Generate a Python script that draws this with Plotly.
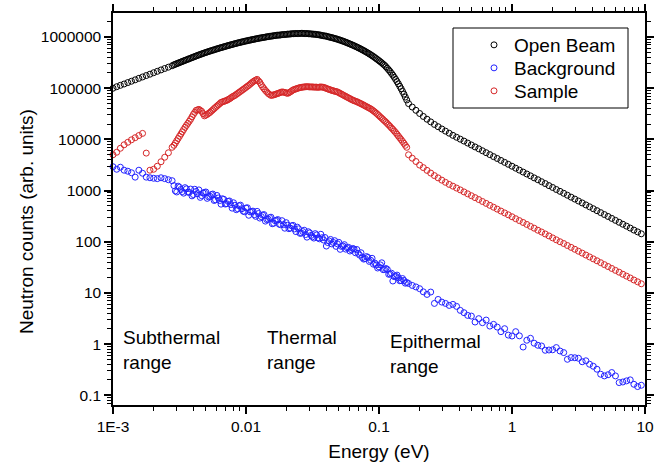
import plotly.graph_objects as go

# ---------------- data ----------------
# energy bins (eV)
energy_ev = [
    0.001000, 0.001066, 0.001136, 0.001212, 0.001292, 0.001377, 0.001468, 0.001565, 0.001668,
    0.001778, 0.001896, 0.002021, 0.002154, 0.002297, 0.002448, 0.002610, 0.002783,
    0.002873, 0.003014, 0.003162, 0.003318, 0.003481, 0.003652, 0.003831, 0.004020, 0.004217,
    0.004424, 0.004642, 0.004870, 0.005109, 0.005360, 0.005623, 0.005900, 0.006190, 0.006494,
    0.006813, 0.007148, 0.007499, 0.007868, 0.008254, 0.008660, 0.009085, 0.009532,
    0.01000, 0.01049, 0.01101, 0.01155, 0.01212, 0.01271, 0.01334, 0.01399, 0.01468, 0.01540,
    0.01616, 0.01695, 0.01778, 0.01866, 0.01957, 0.02054, 0.02154, 0.02260, 0.02371, 0.02488,
    0.02610, 0.02738, 0.02873, 0.03014, 0.03162, 0.03318, 0.03481, 0.03652, 0.03831, 0.04020,
    0.04217, 0.04424, 0.04642, 0.04870, 0.05109, 0.05360, 0.05623, 0.05900, 0.06190, 0.06494,
    0.06813, 0.07148, 0.07499, 0.07868, 0.08254, 0.08660, 0.09085, 0.09532,
    0.1000, 0.1049, 0.1101, 0.1155, 0.1212, 0.1271, 0.1334, 0.1399, 0.1468, 0.1540, 0.1616,
    0.1668, 0.1778, 0.1896, 0.2021, 0.2154, 0.2297, 0.2448, 0.2610, 0.2783, 0.2967, 0.3162,
    0.3372, 0.3594, 0.3831, 0.4084, 0.4354, 0.4642, 0.4949, 0.5275, 0.5624, 0.5995, 0.6392,
    0.6813, 0.7264, 0.7743, 0.8254, 0.8799, 0.9381,
    1.000, 1.066, 1.136, 1.212, 1.292, 1.377, 1.468, 1.565, 1.668, 1.778, 1.896, 2.021, 2.154,
    2.297, 2.448, 2.610, 2.783, 2.967, 3.162, 3.372, 3.594, 3.831, 4.084, 4.354, 4.642, 4.949,
    5.275, 5.624, 5.995, 6.392, 6.813, 7.264, 7.743, 8.254, 8.799, 9.381,
]

# extra (in-between) bins of the finely binned thermal region
energy_mid_ev = [
    0.002943, 0.003087, 0.003239, 0.003398, 0.003565, 0.003740, 0.003924, 0.004117, 0.004319,
    0.004532, 0.004754, 0.004988, 0.005233, 0.005490, 0.005760, 0.006043, 0.006340, 0.006651,
    0.006978, 0.007321, 0.007681, 0.008058, 0.008454, 0.008870, 0.009306, 0.009763,
    0.01024, 0.01075, 0.01127, 0.01183, 0.01241, 0.01302, 0.01366, 0.01433, 0.01503, 0.01577,
    0.01655, 0.01736, 0.01821, 0.01911, 0.02005, 0.02103, 0.02207, 0.02315, 0.02429, 0.02548,
    0.02674, 0.02805, 0.02943, 0.03087, 0.03239, 0.03398, 0.03565, 0.03740, 0.03924, 0.04117,
    0.04319, 0.04532, 0.04754, 0.04988, 0.05233, 0.05490, 0.05760, 0.06043, 0.06340, 0.06651,
    0.06978, 0.07321, 0.07681, 0.08058, 0.08454, 0.08870, 0.09306, 0.09763,
    0.1024, 0.1075, 0.1127, 0.1183, 0.1241, 0.1302, 0.1366, 0.1433, 0.1503, 0.1577,
]

open_beam = [
    100000, 107000, 114000, 121000, 129000, 137000, 146000, 156000, 166000, 177000, 188000,
    201000, 214000, 228000, 243000, 258000, 275000,
    287000, 302000, 317000, 333000, 351000, 368000, 386000, 406000, 427000, 447000, 468000,
    490000, 511000, 532000, 553000, 575000, 598000, 621000, 644000, 668000, 692000, 716000,
    741000, 766000, 789000, 813000, 838000, 861000, 885000, 908000, 931000, 955000, 977000,
    998000, 1020000, 1040000, 1060000, 1080000, 1090000, 1110000, 1120000, 1140000, 1150000,
    1160000, 1170000, 1170000, 1180000, 1170000, 1170000, 1160000, 1140000, 1130000, 1110000,
    1090000, 1060000, 1040000, 1000000, 973000, 940000, 906000, 869000, 832000, 793000, 753000,
    714000, 676000, 638000, 600000, 562000, 525000, 488000, 451000, 415000, 379000, 345000,
    313000, 281000, 246000, 212000, 180000, 149000, 122000, 97700, 76700, 58900,
    50100, 42900, 37000, 32100, 28100, 24800, 22000, 19600, 17700, 16000, 14500, 13200, 12000,
    11000, 10100, 9270, 8490, 7780, 7130, 6550, 6000, 5500, 5040, 4610, 4240, 3880, 3560, 3260,
    2990, 2740, 2510, 2300, 2110, 1940, 1770, 1630, 1490, 1370, 1250, 1150, 1050, 966, 885,
    811, 743, 682, 625, 573, 525, 482, 442, 405, 371, 340, 312, 286, 262, 240, 220, 202, 185,
    169, 156, 143,
]
open_beam_mid = [
    294000, 309000, 325000, 342000, 359000, 377000, 396000, 416000, 437000, 457000,
    479000, 500000, 521000, 543000, 564000, 587000, 610000, 632000, 656000, 680000,
    704000, 729000, 753000, 777000, 801000, 825000, 849000, 873000, 896000, 919000,
    943000, 966000, 987000, 1010000, 1030000, 1050000, 1070000, 1090000, 1100000, 1120000,
    1130000, 1140000, 1160000, 1170000, 1170000, 1180000, 1180000, 1170000, 1160000, 1150000,
    1140000, 1120000, 1100000, 1070000, 1050000, 1020000, 989000, 956000, 923000, 887000,
    850000, 812000, 773000, 734000, 695000, 657000, 619000, 581000, 543000, 506000,
    469000, 433000, 397000, 362000, 329000, 296000, 263000, 228000, 195000, 164000,
    135000, 109000, 86600, 67200,
]

background = [
    2920, 2610, 2860, 2500, 2390, 2230, 1830, 2500, 2180, 1830, 1780, 1740, 1710, 1780, 1710,
    1630, 1560,
    1250, 939, 1160, 952, 1140, 935, 1070, 836, 960, 1030, 795, 918, 705, 774, 855, 659, 718,
    543, 674, 555, 627, 454, 517, 442, 520, 395, 455, 329, 390, 338, 392, 290, 332, 253, 276,
    302, 230, 264, 220, 258, 184, 211, 185, 209, 158, 179, 148, 168, 123, 149, 125, 144, 119,
    140, 108, 82.4, 104, 90.6, 105, 91.0, 71.1, 83.0, 71.7, 77.8, 69.9, 72.0, 70.5, 54.8, 49.2,
    46.8, 49.4, 43.4, 36.4, 35.1, 32.3, 38.8, 28.7, 28.8, 23.3, 17.1, 21.2, 19.8, 17.4, 17.5,
    16.0,
    15.3, 14.0, 13.1, 12.1, 10.5, 9.35, 10.4, 6.24, 7.46, 6.62, 6.24, 5.70, 5.97, 5.46, 4.56,
    4.11, 3.64, 3.53, 2.70, 3.14, 2.62, 2.95, 2.25, 2.43, 2.15, 1.75, 2.00, 1.50,
    1.44, 1.75, 1.45, 0.877, 1.19, 1.30, 1.04, 0.949, 0.919, 0.757, 0.767, 0.775, 0.855, 0.733,
    0.683, 0.505, 0.546, 0.541, 0.529, 0.452, 0.472, 0.404, 0.369, 0.323, 0.258, 0.239, 0.252,
    0.278, 0.239, 0.177, 0.182, 0.191, 0.200, 0.164, 0.148, 0.157,
]
background_mid = [
    987, 1220, 1050, 890, 1080, 922, 788, 1060, 866, 737,
    894, 939, 754, 832, 641, 803, 638, 692, 546, 616,
    533, 578, 423, 505, 442, 386, 462, 383, 397, 314,
    356, 310, 339, 270, 295, 225, 258, 271, 215, 216,
    236, 180, 205, 178, 193, 146, 158, 138, 157, 133,
    118, 136, 114, 120, 121, 96.5, 111, 96.9, 81.3, 97.3,
    81.0, 87.8, 76.4, 65.9, 74.0, 60.8, 59.4, 61.0, 45.8, 51.4,
    41.3, 47.5, 38.3, 30.7, 35.3, 28.5, 30.0, 23.1, 24.3, 20.8,
    22.3, 17.3, 19.1, 15.5,
]

sample = [
    5010, 5610, 6710, 7850, 8780, 9820, 10800, 11900, 13100, 5400, 2500, 2610, 2990, 3660, 4480,
    5480, 7010,
    7670, 9400, 11500, 14100, 17200, 20600, 24700, 30800, 36900, 38600, 35300, 28800, 30800,
    33700, 37800, 42300, 47200, 52800, 55300, 57800, 61800, 67700, 72400, 79200, 86700, 94800,
    104000, 114000, 127000, 139000, 149000, 130000, 106000, 90600, 79200, 72400, 74000, 77400,
    80900, 84700, 82800, 79200, 84700, 92700, 96900, 101000, 104000, 106000, 107000, 106000,
    106000, 105000, 104000, 106000, 104000, 99100, 94800, 90600, 87400, 84700, 79200, 74000,
    69200, 64700, 60500, 57000, 54600, 51300, 48300, 45200, 42300, 39500, 36100, 32600, 29100,
    25900, 23000, 20400, 17900, 15700, 13600, 11600, 9910, 8390, 7010,
    5010, 4290, 3700, 3150, 2810, 2480, 2200, 1960, 1770, 1600, 1450, 1320, 1220, 1120, 1030,
    942, 865, 793, 728, 668, 612, 562, 515, 473, 434, 398, 366, 336,
    308, 282, 259, 238, 218, 200, 184, 168, 155, 142, 130, 119, 109, 100, 92.3, 84.5, 77.6,
    71.3, 65.3, 60.0, 55.0, 50.5, 46.3, 42.5, 39.0, 35.7, 32.8, 30.1, 27.6, 25.4, 23.2, 21.3,
    19.6, 17.9, 16.5, 15.1,
]
sample_mid = [
    8490, 10400, 12700, 15600, 18800, 22500, 27600, 33700, 37800, 36900,
    31900, 29800, 32300, 35700, 40000, 44700, 49900, 54100, 56600, 59800,
    64600, 70000, 75800, 82900, 90700, 99200, 109000, 120000, 133000, 144000,
    139000, 117000, 97900, 84700, 75800, 73200, 75700, 79100, 82800, 83800,
    81000, 81900, 88600, 94700, 99100, 103000, 105000, 107000, 107000, 106000,
    105000, 105000, 105000, 105000, 102000, 96900, 92700, 89000, 86100, 81900,
    76600, 71500, 66900, 62600, 58700, 55800, 52900, 49800, 46700, 43700,
    40800, 37800, 34300, 30800, 27400, 24400, 21700, 19100, 16700, 14600,
    12600, 10700, 9120, 7670,
]

series_names = ["Open Beam", "Background", "Sample"]
x_tick_vals = [0.001, 0.01, 0.1, 1, 10]
x_tick_text = ["1E-3", "0.01", "0.1", "1", "10"]
y_tick_vals = [0.1, 1, 10, 100, 1000, 10000, 100000, 1000000]
y_tick_text = ["0.1", "1", "10", "100", "1000", "10000", "100000", "1000000"]
x_title = "Energy (eV)"
y_title = "Neutron counts (arb. units)"
range_labels = ["Subthermal<br>range", "Thermal<br>range", "Epithermal<br>range"]

# ---------------- figure ----------------
FONT = "Liberation Sans, Arial, Helvetica, sans-serif"
colors = ["#000000", "#2323ff", "#d62728"]
main_values = [open_beam, background, sample]
mid_values = [open_beam_mid, background_mid, sample_mid]
legend_ids = ["legend", "legend2", "legend3"]

W, H = 665, 462
L, R, T, B = 113, 20, 13, 57
pw, ph = W - L - R, H - T - B


def px_x(p):
    return (p - L) / pw


def px_y(p):
    return 1 - (p - T) / ph


fig = go.Figure()
for name, vals, mids, col, lg in zip(series_names, main_values, mid_values, colors, legend_ids):
    fig.add_trace(go.Scatter(
        x=energy_ev + energy_mid_ev, y=vals + mids, mode="markers", name=name, legend=lg,
        marker=dict(symbol="circle-open", size=6, color=col, line=dict(width=1, color=col)),
        cliponaxis=False,
    ))

minor_vals = [m * 10.0 ** e for e in range(-4, 8) for m in range(2, 10)]

axis_common = dict(
    type="log", showgrid=False, zeroline=False, automargin=False,
    showline=True, linecolor="black", linewidth=1.5, mirror="allticks",
    ticks="outside", ticklen=7, tickwidth=1.5, tickcolor="black",
    tickfont=dict(family=FONT, size=15.5, color="black"),
    tickmode="array",
    minor=dict(ticks="outside", ticklen=4, tickwidth=1, tickcolor="black",
               tickmode="array", tickvals=minor_vals, showgrid=False),
)

legend_common = dict(xanchor="left", yanchor="middle", bgcolor="rgba(0,0,0,0)",
                     borderwidth=0, font=dict(family=FONT, size=19, color="black"))

fig.update_layout(
    width=W, height=H,
    margin=dict(l=L, r=R, t=T, b=B, autoexpand=False),
    paper_bgcolor="white", plot_bgcolor="white",
    font=dict(family=FONT, color="black"),
    xaxis=dict(axis_common, range=[-3, 1], tickvals=x_tick_vals, ticktext=x_tick_text,
               title=dict(text=x_title, font=dict(family=FONT, size=19), standoff=10)),
    yaxis=dict(axis_common, range=[-1.19, 6.47], tickvals=y_tick_vals, ticktext=y_tick_text),
    legend=dict(legend_common, x=px_x(474), y=px_y(45)),
    legend2=dict(legend_common, x=px_x(474), y=px_y(68)),
    legend3=dict(legend_common, x=px_x(474), y=px_y(91)),
    showlegend=True,
)

# y-axis title (placed as in the reference)
fig.add_annotation(text=y_title, textangle=-90, xref="paper", yref="paper",
                   x=px_x(26), y=px_y(222), xanchor="center", yanchor="middle",
                   showarrow=False, font=dict(family=FONT, size=19, color="black"))

# legend frame
fig.add_shape(type="rect", xref="paper", yref="paper",
              x0=px_x(453), x1=px_x(628), y0=px_y(108), y1=px_y(28),
              line=dict(color="black", width=1), fillcolor="rgba(0,0,0,0)")

ann_pos = [(121, 325), (265, 325), (388, 329)]
for txt, (ax_, ay_) in zip(range_labels, ann_pos):
    fig.add_annotation(text=txt, xref="paper", yref="paper", x=px_x(ax_), y=px_y(ay_),
                       xanchor="left", yanchor="top", align="left", showarrow=False,
                       font=dict(family=FONT, size=19, color="black"))

fig.write_html("out.html")
